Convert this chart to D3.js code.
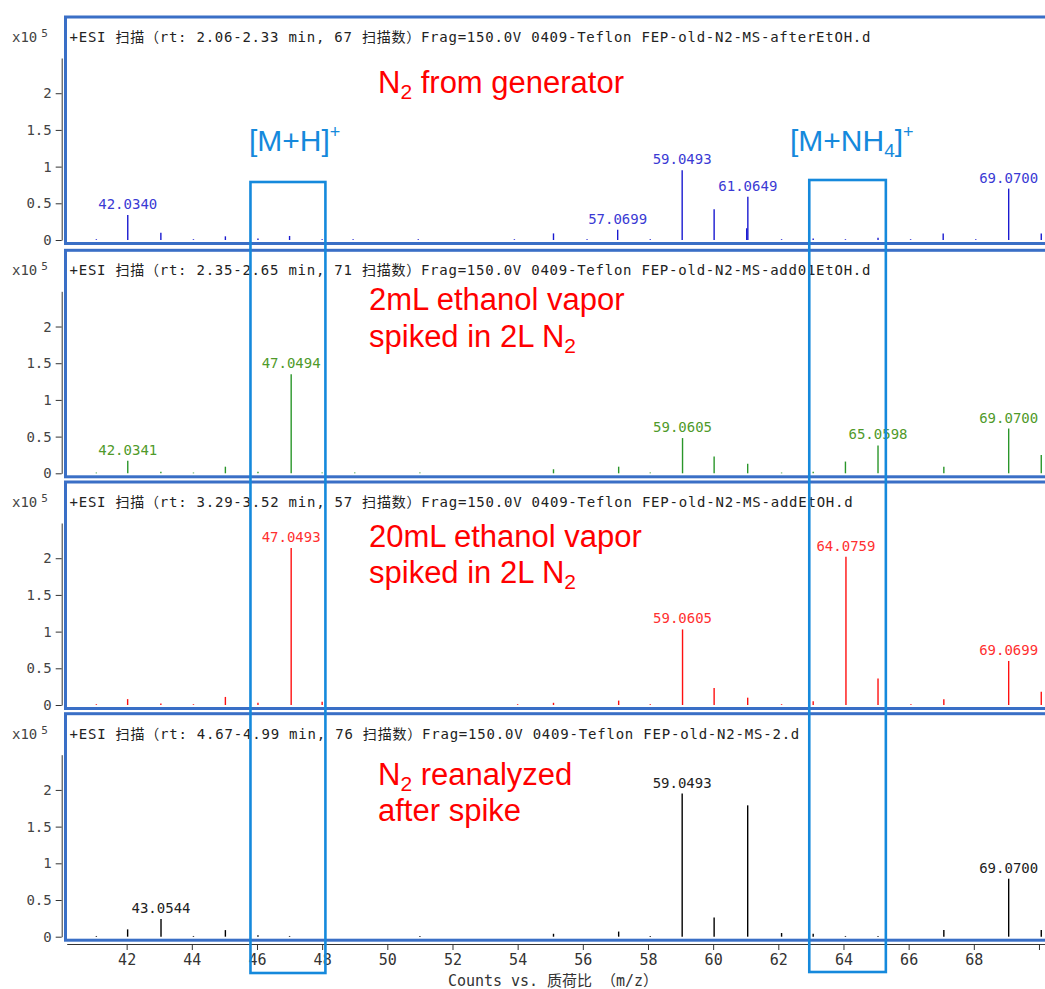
<!DOCTYPE html>
<html><head><meta charset="utf-8">
<script src="https://cdn.jsdelivr.net/npm/d3@7"></script>
<style>body{margin:0;background:#fff;} svg{display:block;}</style>
</head><body>
<svg id="c" width="1045" height="989"></svg>
<script>
// ---------- data ----------
const headers = [
  "+ESI 扫描（rt: 2.06-2.33 min, 67 扫描数）Frag=150.0V 0409-Teflon FEP-old-N2-MS-afterEtOH.d",
  "+ESI 扫描（rt: 2.35-2.65 min, 71 扫描数）Frag=150.0V 0409-Teflon FEP-old-N2-MS-add01EtOH.d",
  "+ESI 扫描（rt: 3.29-3.52 min, 57 扫描数）Frag=150.0V 0409-Teflon FEP-old-N2-MS-addEtOH.d",
  "+ESI 扫描（rt: 4.67-4.99 min, 76 扫描数）Frag=150.0V 0409-Teflon FEP-old-N2-MS-2.d"
];
// panel 1: N2 from generator (blue)
const mz1  = [41.07, 42.0340, 43.05, 44.05, 45.03, 46.03, 47.00, 48.00, 48.95, 50.95, 53.90, 55.10, 56.13, 57.0699, 58.07, 59.0493, 60.03, 61.03, 61.0649, 62.10, 63.07, 64.06, 65.06, 66.06, 67.06, 68.06, 69.0700, 70.07];
const int1 = [0.01, 0.34, 0.10, 0.01, 0.05, 0.02, 0.055, 0.01, 0.01, 0.01, 0.01, 0.09, 0.01, 0.14, 0.01, 0.95, 0.42, 0.16, 0.59, 0.01, 0.02, 0.01, 0.03, 0.01, 0.09, 0.01, 0.70, 0.09];
const lab1 = [42.0340, 57.0699, 59.0493, 61.0649, 69.0700];
// panel 2: 2 mL ethanol (green)
const mz2  = [41.07, 42.0341, 43.05, 44.05, 45.03, 46.03, 47.0494, 48.00, 49.00, 51.00, 55.10, 57.10, 58.07, 59.0605, 60.03, 61.06, 62.10, 63.07, 64.06, 65.0598, 67.08, 69.0700, 70.07];
const int2 = [0.01, 0.17, 0.02, 0.01, 0.09, 0.02, 1.35, 0.01, 0.01, 0.01, 0.055, 0.09, 0.01, 0.48, 0.23, 0.13, 0.01, 0.02, 0.16, 0.38, 0.09, 0.61, 0.25];
const lab2 = [42.0341, 47.0494, 59.0605, 65.0598, 69.0700];
// panel 3: 20 mL ethanol (red)
const mz3  = [41.07, 42.03, 43.05, 44.05, 45.03, 46.03, 47.0493, 48.00, 54.00, 55.10, 57.10, 58.07, 59.0605, 60.03, 61.06, 62.10, 63.07, 64.0759, 65.06, 66.07, 67.08, 69.0699, 70.07];
const int3 = [0.01, 0.08, 0.02, 0.01, 0.11, 0.03, 2.14, 0.045, 0.01, 0.03, 0.06, 0.01, 1.03, 0.23, 0.10, 0.01, 0.05, 2.02, 0.36, 0.01, 0.08, 0.60, 0.18];
const lab3 = [47.0493, 59.0605, 64.0759, 69.0699];
// panel 4: N2 reanalyzed (black)
const mz4  = [41.07, 42.03, 43.0544, 44.05, 45.03, 46.03, 47.00, 51.00, 55.10, 57.10, 58.07, 59.0493, 60.03, 61.06, 62.10, 63.07, 64.06, 65.06, 67.08, 69.0700, 70.07];
const int4 = [0.01, 0.10, 0.24, 0.01, 0.09, 0.02, 0.01, 0.01, 0.04, 0.07, 0.01, 1.95, 0.26, 1.79, 0.05, 0.04, 0.01, 0.01, 0.09, 0.79, 0.09];
const lab4 = [43.0544, 59.0493, 69.0700];

const yTicks = [0, 0.5, 1, 1.5, 2];
const xTicks = [42, 44, 46, 48, 50, 52, 54, 56, 58, 60, 62, 64, 66, 68, 70];
const xTickLabels = ["42","44","46","48","50","52","54","56","58","60","62","64","66","68",""];
const boxRanges = [[45.8, 48.1], [62.95, 65.3]];

// ---------- layout ----------
const svg = d3.select("#c");
const x = d3.scaleLinear().domain([40.16, 70.2]).range([66.7, 1045.5]);
const zeroYs = [240, 473.3, 705, 936.7];
const plotH = 182, yMax = 2.48;
const mono = "'DejaVu Sans Mono', 'Noto Sans CJK SC', monospace";
const sans = "'Liberation Sans', Arial, sans-serif";

const panels = [
  {mz: mz1, v: int1, lab: lab1, color: "#1a1ad0", lc: "#3a3ad4"},
  {mz: mz2, v: int2, lab: lab2, color: "#2a962a", lc: "#4f9a2a"},
  {mz: mz3, v: int3, lab: lab3, color: "#ff1010", lc: "#ff3030"},
  {mz: mz4, v: int4, lab: lab4, color: "#000000", lc: "#222222"}
];

function units(s){ let u=0; for(const ch of s){ u += /[\u3000-\u9fff\uff00-\uffef]/.test(ch) ? 2 : 1; } return u; }

panels.forEach((p, i) => {
  const z = zeroYs[i];
  const y = d3.scaleLinear().domain([0, yMax]).range([z, z - plotH]);
  const g = svg.append("g");

  // panel frame
  g.append("rect").attr("x", 65.5).attr("y", z - 223).attr("width", 1000).attr("height", 226.5)
    .attr("fill", "none").attr("stroke", "#3a6fc6").attr("stroke-width", 3);

  // header
  g.append("text").attr("x", 69.5).attr("y", z - 198)
    .attr("font-family", mono).attr("font-size", 14).attr("fill", "#222")
    .attr("textLength", units(headers[i]) * 8.9).attr("lengthAdjust", "spacing")
    .text(headers[i]);
  const ex = g.append("text").attr("x", 12).attr("y", z - 198)
    .attr("font-family", mono).attr("font-size", 14).attr("fill", "#444");
  ex.append("tspan").text("x10");
  ex.append("tspan").attr("dx", 4).attr("dy", -5).attr("font-size", 11).text("5");

  // y axis
  const ya = g.append("g").attr("transform", "translate(61.7,0)")
    .call(d3.axisLeft(y).tickValues(yTicks).tickSize(6).tickSizeOuter(0).tickPadding(4).tickFormat(d => String(d)));
  ya.selectAll("path,line").attr("stroke", "#333");
  ya.selectAll("text").attr("font-family", mono).attr("font-size", 14).attr("fill", "#444");

  // peaks
  const data = p.mz.map((m, k) => ({m, v: p.v[k]}));
  g.selectAll("line.pk").data(data).join("line").attr("class", "pk")
    .attr("x1", d => x(d.m)).attr("x2", d => x(d.m))
    .attr("y1", y(0)).attr("y2", d => y(d.v))
    .attr("stroke", p.color).attr("stroke-width", 1.4);

  // peak labels
  const labData = p.lab.map(m => ({m, v: p.v[p.mz.indexOf(m)]}));
  g.selectAll("text.pl").data(labData).join("text").attr("class", "pl")
    .attr("x", d => x(d.m)).attr("y", d => y(d.v) - 6)
    .attr("text-anchor", "middle").attr("font-family", mono).attr("font-size", 14)
    .attr("fill", p.lc).text(d => d3.format(".4f")(d.m));
});

// bottom x axis
const xa = svg.append("g").attr("transform", "translate(0,944)")
  .call(d3.axisBottom(x).tickValues(xTicks).tickSize(6).tickSizeOuter(0).tickPadding(4)
    .tickFormat((d, k) => xTickLabels[k]));
xa.selectAll("path,line").attr("stroke", "#333");
xa.selectAll("text").attr("font-family", mono).attr("font-size", 15).attr("fill", "#333");
svg.append("text").attr("x", 448).attr("y", 986)
  .attr("font-family", mono).attr("font-size", 15).attr("fill", "#333")
  .attr("textLength", 210).attr("lengthAdjust", "spacing")
  .text("Counts vs. 质荷比 （m/z）");

// red annotations
function redText(xp, yp, parts){
  const t = svg.append("text").attr("x", xp).attr("y", yp)
    .attr("font-family", sans).attr("font-size", 31).attr("fill", "#ff0000");
  let shifted = false;
  parts.forEach(pt => {
    if (pt.sub) { t.append("tspan").attr("font-size", 21).attr("dy", 6).text(pt.sub); shifted = true; }
    else { const s = t.append("tspan").text(pt.t); if (shifted) { s.attr("dy", -6); shifted = false; } }
  });
}
redText(378, 93, [{t: "N"}, {sub: "2"}, {t: " from generator"}]);
redText(369, 310, [{t: "2mL ethanol vapor"}]);
redText(369, 347, [{t: "spiked in 2L N"}, {sub: "2"}]);
redText(369, 547, [{t: "20mL ethanol vapor"}]);
redText(369, 583, [{t: "spiked in 2L N"}, {sub: "2"}]);
redText(378, 785, [{t: "N"}, {sub: "2"}, {t: " reanalyzed"}]);
redText(378, 821, [{t: "after spike"}]);

// blue adduct boxes & labels
const boxCol = "#1589dc";
boxRanges.forEach((r, k) => {
  svg.append("rect").attr("x", x(r[0])).attr("y", k === 0 ? 182 : 180)
    .attr("width", x(r[1]) - x(r[0])).attr("height", k === 0 ? 791 : 792)
    .attr("fill", "none").attr("stroke", boxCol).attr("stroke-width", 2.6);
});
const b1 = svg.append("text").attr("x", 249).attr("y", 151).attr("font-family", sans)
  .attr("font-size", 30).attr("fill", boxCol);
b1.append("tspan").text("[M+H]");
b1.append("tspan").attr("font-size", 18).attr("dy", -13).text("+");
const b2 = svg.append("text").attr("x", 790).attr("y", 151).attr("font-family", sans)
  .attr("font-size", 30).attr("fill", boxCol);
b2.append("tspan").text("[M+NH");
b2.append("tspan").attr("font-size", 19).attr("dy", 6).text("4");
b2.append("tspan").attr("dy", -6).text("]");
b2.append("tspan").attr("font-size", 18).attr("dy", -13).text("+");
</script>
</body></html>
